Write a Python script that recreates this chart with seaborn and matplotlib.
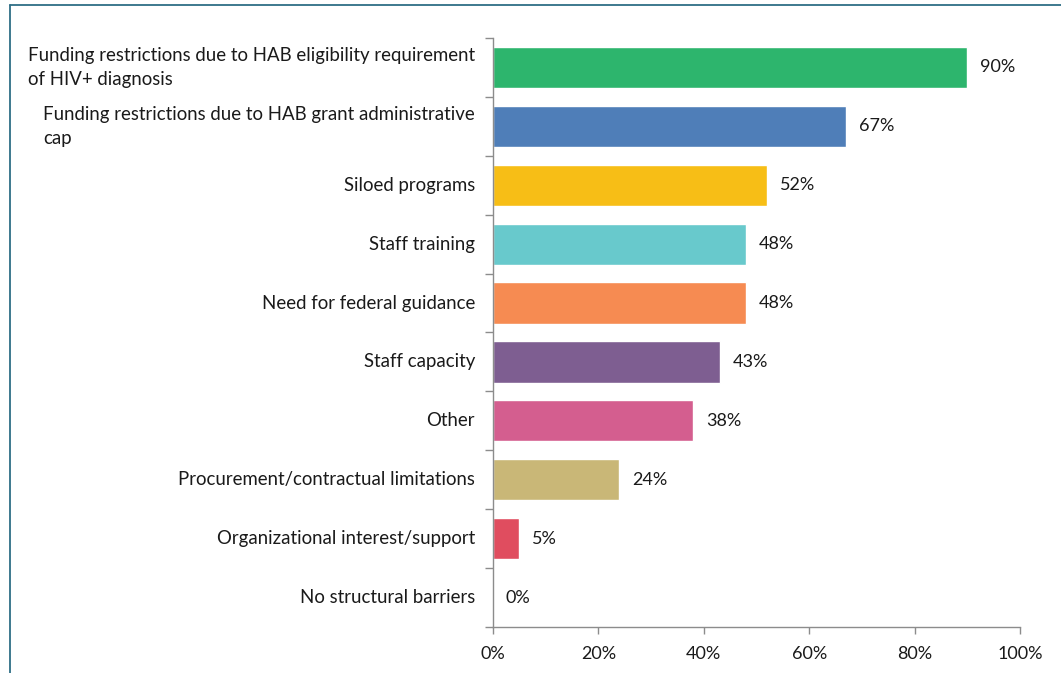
import matplotlib
matplotlib.use("Agg")
import matplotlib.pyplot as plt
import seaborn as sns
import pandas as pd
from matplotlib.ticker import FixedLocator, PercentFormatter
from matplotlib.lines import Line2D
import matplotlib.transforms as mtrans

categories = [
    "Funding restrictions due to HAB eligibility requirement\nof HIV+ diagnosis",
    "Funding restrictions due to HAB grant administrative\ncap",
    "Siloed programs",
    "Staff training",
    "Need for federal guidance",
    "Staff capacity",
    "Other",
    "Procurement/contractual limitations",
    "Organizational interest/support",
    "No structural barriers",
]
values = [90, 67, 52, 48, 48, 43, 38, 24, 5, 0]
colors = ["#2DB56D", "#4F7EB8", "#F7BE16", "#68C9CC", "#F68B52",
          "#7E5E91", "#D45E8F", "#C9B777", "#E04D5F", "#BBBBBB"]
x_ticks = [0, 20, 40, 60, 80, 100]

sns.set_style("white")
plt.rcParams["font.family"] = ["Lato", "DejaVu Sans"]

df = pd.DataFrame({"cat": categories, "val": values})

DPI = 100
fig = plt.figure(figsize=(10.61, 6.73), dpi=DPI)
ax = fig.add_axes([493/1061, 1-627/673, (1020-493)/1061, (627-38)/673])

sns.barplot(data=df, x="val", y="cat", hue="cat", palette=colors,
            legend=False, orient="h", width=0.7, ax=ax, saturation=1)

ax.set_xlim(0, 100)
ax.set_ylim(len(categories) - 0.5, -0.5)
ax.set_xlabel("")
ax.set_ylabel("")

ax.xaxis.set_major_locator(FixedLocator(x_ticks))
ax.xaxis.set_major_formatter(PercentFormatter(decimals=0))
ax.tick_params(axis="x", which="major", direction="out", length=5, width=1,
               color="#8C8C8C", labelsize=13, pad=9, labelcolor="#1A1A1A", bottom=True)
ax.tick_params(axis="y", which="major", length=0, labelleft=False)
ax.set_yticks([i + 0.5 for i in range(-1, len(categories))], minor=True)
ax.tick_params(axis="y", which="minor", direction="out", length=5.5, width=1,
               color="#8C8C8C", left=True)

# category labels: right-aligned blocks, lines left-aligned within the block
renderer = fig.canvas.get_renderer()
label_right_px = 475  # px from left of figure
line_gap_px = 24
fs = 13.4
for i, c in enumerate(categories):
    lines = c.split("\n")
    widths = []
    for ln in lines:
        t = fig.text(0, 0, ln, fontsize=fs)
        widths.append(t.get_window_extent(renderer).width)
        t.remove()
    block_left = label_right_px - max(widths)
    n = len(lines)
    for j, ln in enumerate(lines):
        dy = ((n - 1) / 2 - j) * line_gap_px
        tr = mtrans.blended_transform_factory(fig.transFigure, ax.transData) + \
            mtrans.ScaledTranslation(0, dy / DPI, fig.dpi_scale_trans)
        ax.text(block_left / (10.61 * DPI), i, ln, transform=tr, ha="left",
                va="center", fontsize=fs, color="#1A1A1A")

for s in ["top", "right"]:
    ax.spines[s].set_visible(False)
for s in ["left", "bottom"]:
    ax.spines[s].set_color("#8C8C8C")
    ax.spines[s].set_linewidth(1)

for i, v in enumerate(values):
    ax.text(v + 2.4, i, f"{v}%", va="center", ha="left", fontsize=13,
            color="#1A1A1A")

# outer border (top and left visible)
fig.add_artist(Line2D([10/1061, 10/1061], [0, 1-5/673], color="#2E6E86", lw=1.3,
                      transform=fig.transFigure))
fig.add_artist(Line2D([10/1061, 1], [1-5/673, 1-5/673], color="#2E6E86", lw=1.3,
                      transform=fig.transFigure))

fig.savefig("out.png", dpi=DPI)
